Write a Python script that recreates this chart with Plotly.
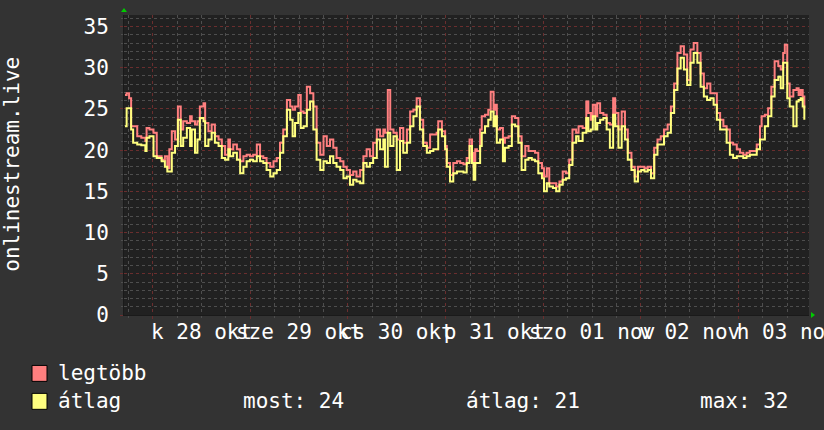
import plotly.graph_objects as go
from datetime import datetime, timedelta

# ---------------- data ----------------
y_title = "onlinestream.live"
series_names = ["legtöbb", "átlag"]
stat_labels = ["most: 24", "átlag: 21", "max: 32"]
day_dates = ["2025-10-28", "2025-10-29", "2025-10-30", "2025-10-31",
             "2025-11-01", "2025-11-02", "2025-11-03"]
day_labels = ["k 28 okt", "sze 29 okt", "cs 30 okt", "p 31 okt",
              "szo 01 nov", "v 02 nov", "h 03 nov"]
data_start = "2025-10-27 17:11"
axis_start = "2025-10-27 16:56"
axis_hours = 168.4

hours = [0.0, 0.4, 1.0, 1.5, 2.0, 3.0, 4.0, 5.0, 5.3, 6.0, 7.0, 7.8, 9.0, 9.8, 10.4, 10.9,
         11.5, 12.3, 13.0, 13.7, 14.3, 15.2, 16.0, 16.4, 17.2, 17.8, 18.4, 19.3, 19.7, 20.5,
         21.3, 22.1, 23.0, 23.8, 24.6, 25.4, 25.8, 26.6, 27.5, 28.3, 29.1, 29.9, 30.7, 31.5,
         32.4, 33.2, 34.0, 34.8, 35.7, 36.5, 37.3, 38.1, 38.9, 39.8, 40.6, 41.2, 41.8, 42.6,
         43.2, 43.9, 44.7, 45.5, 46.3, 47.1, 48.0, 48.8, 49.6, 50.4, 51.2, 52.0, 52.9, 53.7,
         54.5, 55.3, 56.1, 56.9, 57.8, 58.6, 59.4, 60.2, 61.0, 61.9, 62.7, 63.5, 63.9, 64.6,
         65.2, 66.0, 66.8, 67.6, 68.4, 69.3, 70.1, 70.9, 71.7, 72.5, 73.3, 74.2, 75.0, 75.8,
         76.6, 77.0, 77.9, 78.7, 79.1, 79.9, 80.7, 81.6, 82.4, 83.2, 84.0, 84.7, 85.3, 85.7,
         86.1, 86.5, 87.3, 87.7, 88.5, 89.3, 89.9, 90.6, 91.0, 91.4, 92.2, 92.9, 93.4, 94.3,
         95.1, 95.9, 96.7, 97.5, 98.4, 99.2, 100.0, 100.8, 101.6, 102.5, 103.0, 103.7, 104.3,
         105.2, 106.0, 106.8, 107.6, 108.4, 109.2, 110.0, 110.9, 111.5, 112.5, 113.4, 113.9,
         114.5, 115.0, 115.6, 116.1, 116.8, 117.6, 118.4, 119.2, 120.0, 120.5, 121.3, 122.1,
         122.9, 123.6, 124.5, 125.3, 126.1, 126.9, 127.7, 128.5, 129.3, 130.1, 130.9, 131.7,
         132.5, 133.4, 134.2, 135.0, 135.8, 136.6, 137.4, 138.2, 139.0, 139.8, 140.7, 141.5,
         142.3, 143.1, 143.9, 144.7, 145.5, 146.3, 147.1, 147.9, 148.7, 149.5, 150.4, 151.2,
         152.0, 152.8, 153.6, 154.4, 155.3, 156.1, 156.5, 157.3, 158.1, 158.9, 159.7, 160.6,
         161.2, 161.8, 162.2, 162.8, 163.4, 164.3, 165.1, 165.6, 166.1, 166.6, 167.0]

max_vals = [26.7, 26.9, 26.3, 22.9, 22.9, 21.7, 21.5, 21.1, 22.7, 22.5, 22.1, 19.25, 18.85, 19.25, 17.8, 20.1,
            22.3, 21.3, 25.3, 22.5, 23.5, 23.3, 24.1, 23.5, 23.1, 23.5, 25.3, 25.7, 23.3, 22.3,
            23.1, 21.7, 21.3, 20.5, 19.45, 21.3, 20.1, 20.7, 20.1, 18.65, 19.25, 19.45, 19.25, 19.45,
            20.7, 19.25, 19.05, 18.45, 18.0, 18.65, 19.05, 20.9, 22.5, 26.1, 25.3, 24.9, 25.3, 26.7,
            24.7, 24.5, 27.7, 26.9, 25.3, 20.9, 19.45, 21.7, 20.5, 21.3, 20.3, 19.05, 18.65, 18.0,
            17.6, 17.0, 17.4, 16.8, 17.6, 19.25, 20.1, 19.25, 20.9, 22.5, 21.7, 22.5, 22.1, 27.3,
            22.5, 22.1, 21.3, 22.7, 20.9, 22.5, 24.7, 24.9, 26.3, 23.7, 20.9, 20.3, 21.9, 21.9,
            22.1, 23.5, 22.3, 20.5, 18.45, 17.0, 18.45, 18.65, 18.45, 18.3, 19.05, 21.3, 19.7, 18.0,
            20.1, 19.9, 22.5, 24.1, 24.3, 24.9, 27.1, 24.9, 25.5, 22.5, 22.7, 20.9, 21.5, 21.7,
            24.1, 23.9, 21.7, 19.25, 20.5, 19.9, 19.9, 19.7, 18.45, 17.8, 16.8, 17.8, 16.0,
            16.0, 15.6, 16.2, 17.4, 17.2, 18.85, 22.5, 22.1, 22.9, 22.7, 25.9, 24.5,
            23.7, 25.5, 24.1, 25.7, 24.5, 24.3, 23.3, 23.1, 26.3, 24.5, 22.5, 24.7,
            22.5, 19.7, 18.0, 16.8, 18.0, 18.0, 17.8, 18.0, 17.2, 20.3, 21.3, 21.7,
            22.5, 23.1, 25.3, 28.1, 31.8, 32.6, 31.6, 28.5, 32.2, 33.0, 31.8, 29.3,
            27.5, 28.1, 26.9, 26.9, 24.5, 23.7, 22.9, 22.5, 20.9, 20.7, 20.1, 19.7,
            19.45, 19.7, 19.9, 19.9, 20.7, 22.9, 24.1, 24.3, 25.1, 27.7, 30.8, 30.2,
            29.8, 31.8, 32.8, 28.1, 26.5, 27.3, 27.5, 26.7, 27.3, 26.5, 25.1]

avg_vals = [22.9, 25.1, 25.1, 22.5, 20.9, 20.7, 20.6, 19.9, 21.5, 21.7, 19.25, 19.05, 18.65, 18.0, 17.4, 17.4,
            19.7, 20.5, 23.7, 20.5, 21.5, 22.7, 20.5, 22.5, 19.7, 21.3, 23.9, 23.5, 20.5, 21.3,
            22.1, 20.9, 20.5, 19.05, 18.85, 20.1, 19.25, 19.7, 18.85, 17.2, 18.0, 18.65, 18.85, 18.65,
            19.25, 18.65, 18.45, 17.6, 16.8, 17.2, 17.6, 19.7, 21.7, 24.9, 23.7, 21.7, 23.3, 24.5,
            22.7, 22.9, 24.9, 25.9, 22.5, 18.85, 17.6, 18.65, 18.45, 19.25, 18.45, 18.0, 17.6, 16.6,
            16.8, 15.8, 16.4, 16.2, 16.0, 18.45, 18.0, 18.45, 19.05, 21.3, 20.1, 21.3, 18.0, 22.1,
            20.5, 21.7, 17.6, 21.1, 19.7, 20.9, 22.9, 24.1, 25.3, 22.5, 20.5, 19.7, 19.9, 20.1,
            20.1, 22.5, 21.7, 20.1, 18.0, 16.2, 17.2, 17.4, 17.4, 17.3, 18.45, 20.5, 18.45, 16.4,
            18.45, 18.45, 20.5, 22.1, 22.9, 23.7, 24.7, 22.9, 24.1, 20.9, 21.3, 18.65, 20.3, 20.5,
            23.1, 22.9, 20.9, 17.6, 18.85, 19.05, 18.85, 18.65, 17.2, 16.6, 15.0, 16.0, 15.6,
            15.4, 15.0, 15.8, 16.4, 16.6, 18.2, 20.9, 21.7, 21.1, 22.1, 23.9, 22.3,
            22.5, 24.1, 22.5, 23.3, 23.7, 23.9, 22.5, 20.3, 24.3, 22.9, 20.3, 22.9,
            21.3, 18.85, 17.6, 16.2, 17.4, 17.6, 17.4, 17.6, 16.6, 19.45, 20.7, 20.7,
            21.7, 22.1, 24.5, 27.3, 29.9, 31.2, 29.8, 27.9, 30.6, 31.8, 30.6, 27.7,
            26.5, 26.1, 26.3, 25.5, 23.7, 22.5, 22.5, 20.9, 19.45, 19.05, 19.25, 19.25,
            19.05, 19.25, 19.45, 19.45, 20.1, 21.3, 21.3, 22.9, 24.1, 26.5, 28.5, 28.9,
            27.5, 30.6, 30.6, 26.3, 25.3, 22.9, 25.9, 26.1, 26.3, 25.3, 23.7]

# ---------------- styling ----------------
FONT = "DejaVu Sans Mono"
BG = "#333333"
PLOT_BG = "#212121"
RED = "#FF7F7F"
YEL = "#FFFF7F"
MAJOR_GRID = "#6A2E2E"
MINOR_GRID = "#4E4E4E"
ARROW = "#00CC00"

t0 = datetime.strptime(data_start, "%Y-%m-%d %H:%M")
times = [t0 + timedelta(hours=h) for h in hours]
a0 = datetime.strptime(axis_start, "%Y-%m-%d %H:%M")
a1 = a0 + timedelta(hours=axis_hours)
label_pos = [datetime.strptime(d, "%Y-%m-%d") + timedelta(hours=12) for d in day_dates]

FIG_W, FIG_H = 824, 430
PL, PR, PT, PB = 124, 809, 15, 315.5          # plot box in window pixels
L, R, T, B = PL, FIG_W - PR, PT, FIG_H - PB
W = PR - PL
H = PB - PT


def px_x(px):
    return (px - PL) / W


def px_y(py):
    return (PB - py) / H


fig = go.Figure()
fig.add_trace(go.Scatter(x=times, y=max_vals, mode="lines", line=dict(color=RED, width=2, shape="hv"),
                         name=series_names[0], showlegend=False))
fig.add_trace(go.Scatter(x=times, y=avg_vals, mode="lines", line=dict(color=YEL, width=2, shape="hv"),
                         name=series_names[1], showlegend=False))
# invisible trace to carry the label axis
fig.add_trace(go.Scatter(x=times, y=avg_vals, xaxis="x2", mode="lines",
                         line=dict(color="rgba(0,0,0,0)", width=0), hoverinfo="skip", showlegend=False))

fig.update_layout(
    width=FIG_W, height=FIG_H,
    margin=dict(l=L, r=R, t=T, b=B, pad=0, autoexpand=False),
    paper_bgcolor=BG, plot_bgcolor=PLOT_BG,
    font=dict(family=FONT, size=21, color="#FFFFFF"),
    showlegend=False,
    xaxis=dict(
        type="date", range=[a0, a1], automargin=False,
        showticklabels=False,
        tick0="2025-10-28", dtick=86400000,
        showgrid=True, gridcolor=MAJOR_GRID, griddash="dot", gridwidth=1,
        ticks="outside", ticklen=3, tickcolor=MAJOR_GRID,
        minor=dict(dtick=6 * 3600000, tick0="2025-10-28", showgrid=True, gridcolor=MINOR_GRID,
                   griddash="dot", gridwidth=1, ticks="outside", ticklen=2, tickcolor=MINOR_GRID),
        showline=True, linecolor="#1A1A1A", linewidth=1,
        zeroline=False,
    ),
    xaxis2=dict(
        type="date", range=[a0, a1], overlaying="x", side="bottom", anchor="y", automargin=False,
        tickmode="array", tickvals=label_pos, ticktext=day_labels, tickangle=0,
        ticklabeloverflow="allow",
        showgrid=False, ticks="", ticklabelstandoff=2,
        tickfont=dict(family=FONT, size=21, color="#FFFFFF"),
        showline=False, zeroline=False,
    ),
    yaxis=dict(
        range=[0, 36.4], tick0=0, dtick=5, automargin=False,
        showgrid=True, gridcolor=MAJOR_GRID, griddash="dot", gridwidth=1,
        ticks="outside", ticklen=3, tickcolor=MAJOR_GRID, ticklabelstandoff=7,
        tickfont=dict(family=FONT, size=21, color="#FFFFFF"),
        minor=dict(dtick=1, showgrid=True, gridcolor=MINOR_GRID, griddash="dot", gridwidth=1,
                   ticks="outside", ticklen=2, tickcolor=MINOR_GRID),
        showline=True, linecolor="#1A1A1A", linewidth=1,
        zeroline=False,
    ),
)

# axis arrows
fig.add_shape(type="path", xref="paper", yref="paper", xsizemode="pixel", ysizemode="pixel",
              xanchor=0, yanchor=1, path="M -3,3 L 3,3 L 0,7 Z",
              fillcolor=ARROW, line=dict(color=ARROW, width=0))
fig.add_shape(type="path", xref="paper", yref="paper", xsizemode="pixel", ysizemode="pixel",
              xanchor=1, yanchor=0, path="M 2,-3 L 2,3 L 6,0 Z",
              fillcolor=ARROW, line=dict(color=ARROW, width=0))

# y-axis title
fig.add_annotation(text=y_title, xref="paper", yref="paper", x=px_x(12), y=px_y(165),
                   textangle=-90, showarrow=False, xanchor="center", yanchor="middle",
                   font=dict(family=FONT, size=21, color="#FFFFFF"))

# legend swatches + texts
colors = [RED, YEL]
rows_y = [374, 402]
for name, col, ry in zip(series_names, colors, rows_y):
    fig.add_shape(type="rect", xref="paper", yref="paper",
                  x0=px_x(32), x1=px_x(47), y0=px_y(ry - 8), y1=px_y(ry + 8),
                  fillcolor=col, line=dict(color="#000000", width=1))
    fig.add_annotation(text=name, xref="paper", yref="paper", x=px_x(56), y=px_y(ry),
                       showarrow=False, xanchor="left", yanchor="middle",
                       font=dict(family=FONT, size=21, color="#FFFFFF"))

for txt, lx in zip(stat_labels, [241, 464, 698]):
    fig.add_annotation(text=txt, xref="paper", yref="paper", x=px_x(lx), y=px_y(rows_y[1]),
                       showarrow=False, xanchor="left", yanchor="middle",
                       font=dict(family=FONT, size=21, color="#FFFFFF"))

# remove the default page margin so the figure fills the window exactly
fig.write_html("out.html",
               config={"displayModeBar": False},
               post_script="document.body.style.margin='0';document.body.style.background='#333333';")
